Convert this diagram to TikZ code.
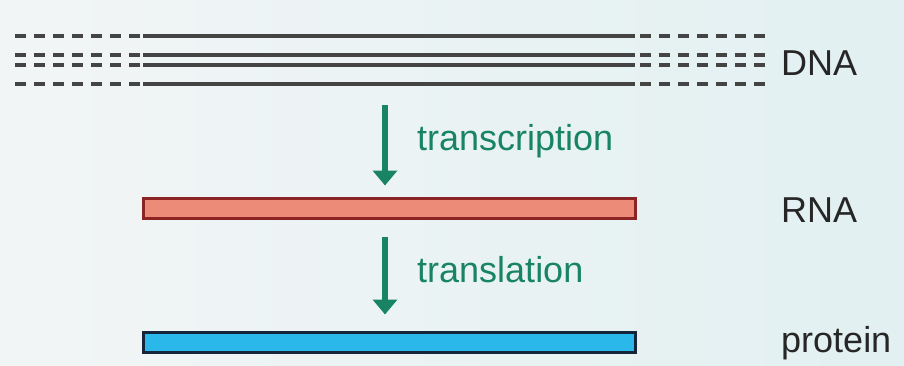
\documentclass[tikz,border=0pt]{standalone}
\usepackage{fontspec}
\setmainfont{Liberation Sans}
\usetikzlibrary{arrows.meta,positioning}
\definecolor{ink}{RGB}{38,38,38}
\definecolor{strand}{RGB}{68,68,68}
\definecolor{flowgreen}{RGB}{24,132,100}
\definecolor{rnafill}{RGB}{236,140,120}
\definecolor{rnaedge}{RGB}{140,36,36}
\definecolor{protfill}{RGB}{42,184,234}
\definecolor{protedge}{RGB}{22,38,58}
\definecolor{bgleft}{RGB}{242,245,246}
\definecolor{bgright}{RGB}{226,240,241}
\tikzset{
  label/.style={font=\fontsize{36}{40}\selectfont,text=ink,anchor=base west,inner sep=0pt},
  steplabel/.style={label,text=flowgreen},
  strandline/.style={line width=3.4pt,draw=strand},
  strandgap/.style={strandline,dash pattern=on 11pt off 8pt},
  bar/.style={rectangle,minimum width=492pt,minimum height=20pt,inner sep=0pt,outer sep=0pt,line width=3pt},
  rnabar/.style={bar,draw=rnaedge,fill=rnafill},
  protbar/.style={bar,draw=protedge,fill=protfill},
  flow/.style={-{Triangle[width=24pt,length=15pt]},line width=6pt,draw=flowgreen}
}

\begin{document}
\begin{tikzpicture}[x=1pt,y=-1pt]
  % background
  \shade[left color=bgleft,middle color=white,right color=bgright] (0,0) rectangle (904,365);
  \useasboundingbox (0,0) rectangle (904,365);

  % DNA, double strand drawn twice
  \node[rectangle,minimum width=492pt,minimum height=49pt,inner sep=0pt] (dna) at (389,60.5) {};
  \foreach \y in {36,55,65,84} {
    \draw[strandgap] (15,\y) -- (143,\y);
    \draw[strandline] (143,\y) -- (635,\y);
    \draw[strandgap] (640,\y) -- (765,\y);
  }
  \node[label] (dnalabel) at (781,75) {DNA};

  % RNA and protein
  \node[rnabar] (rna) at (389,208.5) {};
  \node[protbar] (protein) at (389,342.5) {};
  \node[label] (rnalabel) at (781,222) {RNA};
  \node[label] (protlabel) at (781,352) {protein};

  % steps
  \draw[flow,shorten <=20pt,shorten >=13pt] ([xshift=-4pt]dna.south) -- ([xshift=-4pt]rna.north);
  \draw[flow,shorten <=18pt,shorten >=18pt] ([xshift=-4pt]rna.south) -- ([xshift=-4pt]protein.north);
  \node[steplabel] (transcr) at (417,150) {transcription};
  \node[steplabel] (transl) at (417,282) {translation};
\end{tikzpicture}
\end{document}
